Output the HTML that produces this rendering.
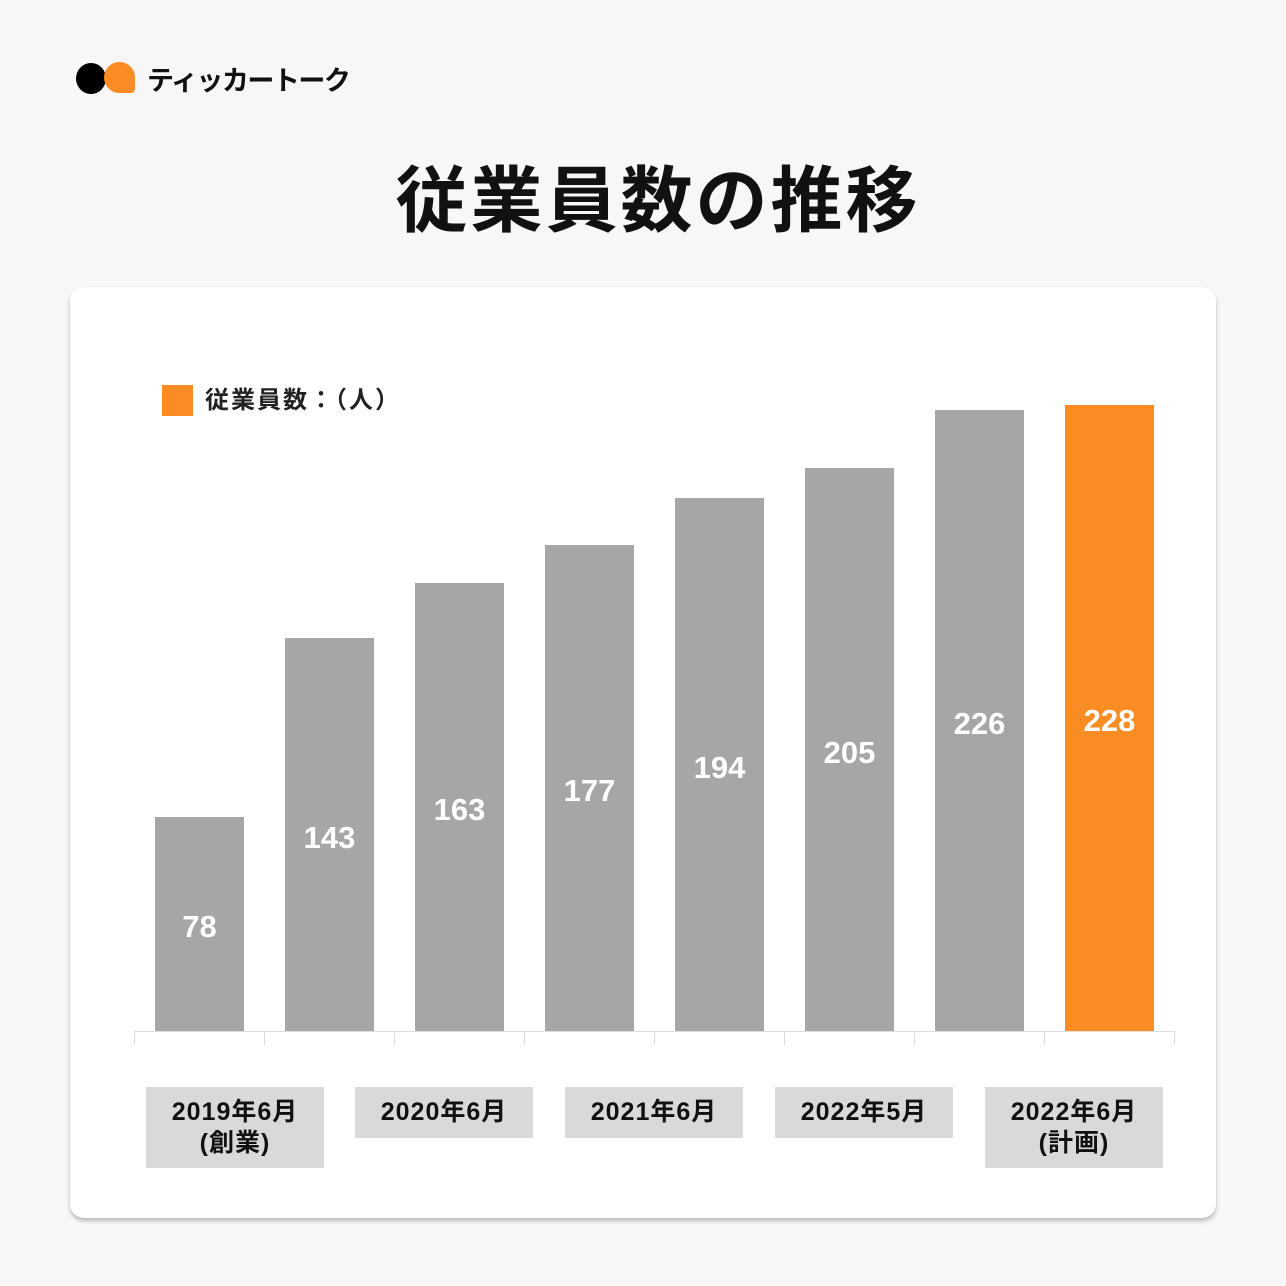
<!DOCTYPE html>
<html><head><meta charset="utf-8"><style>
body{margin:0;width:1286px;height:1286px;background:#f7f7f7;position:relative;overflow:hidden;font-family:"Liberation Sans","Noto Sans CJK JP",sans-serif;}
.abs{position:absolute}
.card{left:70px;top:287px;width:1146px;height:931px;background:#fff;border-radius:14px;box-shadow:0 3px 4px rgba(0,0,0,.25);}
.bar{position:absolute;width:89px;background:#a6a6a6;bottom:255px;}
.val{position:absolute;width:89px;text-align:center;color:#fff;font-weight:bold;font-size:31px;}
.lab{position:absolute;top:1087px;width:178px;background:#d9d9d9;text-align:center;font-weight:bold;font-size:25px;line-height:31px;padding:10px 0;box-sizing:border-box;color:#111;letter-spacing:1px}
.tick{position:absolute;top:1031px;width:1px;height:14px;background:#ddd;}
</style></head><body>
<div class="abs" style="left:76px;top:63px;width:30px;height:31px;border-radius:50%;background:#000"></div>
<div class="abs" style="left:104px;top:62px;width:31px;height:31px;border-radius:50% 50% 4px 50%;background:#f98c22"></div>
<div class="abs" style="left:147px;top:59px;font-size:27px;font-weight:bold;color:#111;letter-spacing:-1.5px">ティッカートーク</div>
<div class="abs" style="left:30px;width:1256px;top:152px;text-align:center;font-size:72px;font-weight:bold;color:#111;line-height:100px;letter-spacing:3px">従業員数の推移</div>
<div class="abs card"></div>
<div class="abs" style="left:162px;top:385px;width:31px;height:31px;background:#f98c22"></div>
<div class="abs" style="left:205px;top:385px;font-size:24px;font-weight:bold;color:#222;line-height:32px;letter-spacing:2px">従業員数：（人）</div>
<div class="abs" style="left:134px;top:1031px;width:1041px;height:1px;background:#ddd"></div>
<div class="tick" style="left:134px"></div><div class="tick" style="left:264px"></div><div class="tick" style="left:394px"></div><div class="tick" style="left:524px"></div><div class="tick" style="left:654px"></div><div class="tick" style="left:784px"></div><div class="tick" style="left:914px"></div><div class="tick" style="left:1044px"></div><div class="tick" style="left:1174px"></div>
<div class="bar" style="left:155px;top:817px"></div><div class="val" style="left:155px;top:909px">78</div>
<div class="bar" style="left:285px;top:638px"></div><div class="val" style="left:285px;top:820px">143</div>
<div class="bar" style="left:415px;top:583px"></div><div class="val" style="left:415px;top:792px">163</div>
<div class="bar" style="left:545px;top:545px"></div><div class="val" style="left:545px;top:773px">177</div>
<div class="bar" style="left:675px;top:498px"></div><div class="val" style="left:675px;top:750px">194</div>
<div class="bar" style="left:805px;top:468px"></div><div class="val" style="left:805px;top:735px">205</div>
<div class="bar" style="left:935px;top:410px"></div><div class="val" style="left:935px;top:706px">226</div>
<div class="bar" style="left:1065px;top:405px;background:#f98c22"></div><div class="val" style="left:1065px;top:703px">228</div>
<div class="lab" style="left:146px;height:81px">2019年6月<br>(創業)</div>
<div class="lab" style="left:355px;height:51px">2020年6月</div>
<div class="lab" style="left:565px;height:51px">2021年6月</div>
<div class="lab" style="left:775px;height:51px">2022年5月</div>
<div class="lab" style="left:985px;height:81px">2022年6月<br>(計画)</div>
</body></html>
